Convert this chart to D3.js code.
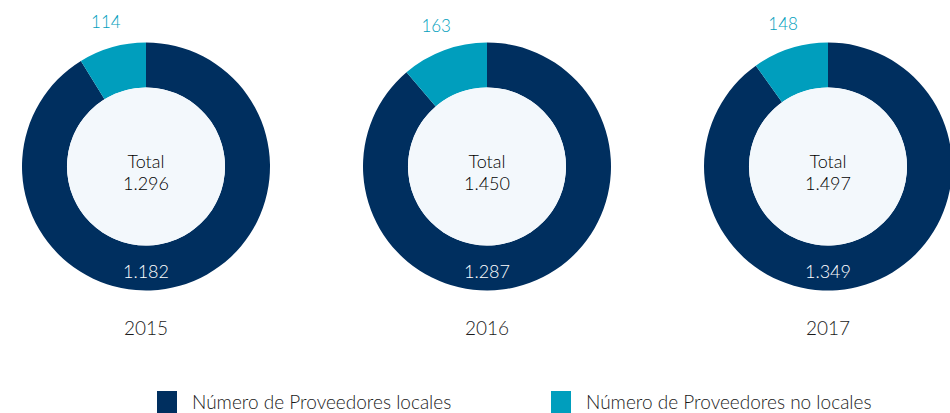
<!DOCTYPE html>
<html>
<head>
<meta charset="utf-8" />
<title>Proveedores locales y no locales</title>
<style>
html, body {
    margin: 0;
    padding: 0;
    background: #fff;
}
#chart {
    width: 950px;
    height: 413px;
}
</style>
</head>
<body>
<div id="chart"></div>
<script src="https://d3js.org/d3.v7.min.js"></script>
<script>
!(function(){
    "use strict"

    // datos
    var years = ["2015", "2016", "2017"]
    var locales = [1182, 1287, 1349]
    var noLocales = [114, 163, 148]
    var totales = [1296, 1450, 1497]
    var seriesNames = ["Número de Proveedores locales", "Número de Proveedores no locales"]

    var colors = ["#002f5f", "#009ebd"]
    var width = 950, height = 413
    var outerR = 124, innerR = 79
    var cy = 166.5

    var svg = d3.select("#chart").append("svg")
        .attr("width", width)
        .attr("height", height)
        .style("font-family", "Lato, 'Open Sans', sans-serif")
        .style("font-weight", 300)

    var x = d3.scalePoint()
        .domain(years)
        .range([146, 828])

    var fmt = function(v) {
        return d3.format(",")(v).replace(/,/g, ".")
    }

    var pie = d3.pie().sort(null)
    var arc = d3.arc().innerRadius(innerR).outerRadius(outerR)

    years.forEach(function(year, i) {
        var g = svg.append("g")
            .attr("transform", "translate(" + [x(year), cy] + ")")

        var arcs = pie([locales[i], noLocales[i]])

        g.selectAll("path")
            .data(arcs)
            .enter().append("path")
            .attr("d", arc)
            .attr("fill", function(d, k) { return colors[k] })

        g.append("circle")
            .attr("r", innerR)
            .attr("fill", "#f3f8fc")

        // total en el centro
        g.append("text")
            .attr("text-anchor", "middle")
            .attr("y", 1.5)
            .attr("font-size", "18px")
            .attr("fill", "#000")
            .text("Total")
        g.append("text")
            .attr("text-anchor", "middle")
            .attr("y", 23.5)
            .attr("font-size", "18px")
            .attr("fill", "#000")
            .text(fmt(totales[i]))

        // etiqueta locales (abajo, dentro del anillo)
        g.append("text")
            .attr("text-anchor", "middle")
            .attr("y", 111.5)
            .attr("font-size", "18px")
            .attr("fill", "#fff")
            .text(fmt(locales[i]))

        // etiqueta no locales (fuera, sobre el sector)
        var a = (arcs[1].startAngle + arcs[1].endAngle) / 2
        var lr = 147
        g.append("text")
            .attr("text-anchor", "middle")
            .attr("x", lr * Math.sin(a))
            .attr("y", -lr * Math.cos(a) + 3)
            .attr("font-size", "17px")
            .attr("fill", colors[1])
            .text(fmt(noLocales[i]))

        // año
        svg.append("text")
            .attr("text-anchor", "middle")
            .attr("x", x(year))
            .attr("y", 335)
            .attr("font-size", "19px")
            .attr("fill", "#1a1a1a")
            .text(year)
    })

    // leyenda
    var legendX = [157, 551]
    var legend = svg.selectAll(".legend")
        .data(seriesNames)
        .enter().append("g")
        .attr("class", "legend")
        .attr("transform", function(d, k) { return "translate(" + [legendX[k], 391] + ")" })

    legend.append("rect")
        .attr("width", 20)
        .attr("height", 22)
        .attr("fill", function(d, k) { return colors[k] })

    legend.append("text")
        .attr("x", 35)
        .attr("y", 18)
        .attr("font-size", "19px")
        .attr("fill", "#1a1a1a")
        .text(function(d) { return d })

}());
</script>
</body>
</html>
